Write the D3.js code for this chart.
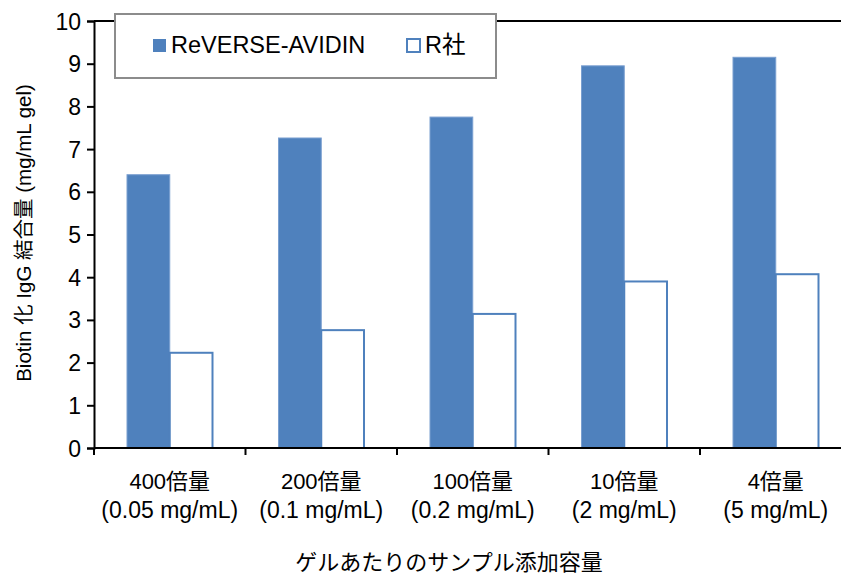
<!DOCTYPE html>
<html>
<head>
<meta charset="utf-8">
<script src="https://cdn.jsdelivr.net/npm/d3@7"></script>
<style>
  body { margin: 0; background: #fff; }
  text { font-family: "Liberation Sans", Arial, "Noto Sans CJK JP", sans-serif; fill: #000; }
</style>
</head>
<body>
<div id="chart"></div>
<script>
let width = 841;
let height = 575;

// data
let categories = ['400倍量', '200倍量', '100倍量', '10倍量', '4倍量'];
let subLabels = ['(0.05 mg/mL)', '(0.1 mg/mL)', '(0.2 mg/mL)', '(2 mg/mL)', '(5 mg/mL)'];
let seriesNames = ['ReVERSE-AVIDIN', 'R社'];
let avidin = [6.4, 7.26, 7.75, 8.95, 9.15];
let rsha = [2.23, 2.76, 3.14, 3.9, 4.07];
let yTicks = [0, 1, 2, 3, 4, 5, 6, 7, 8, 9, 10];

let blue = '#4f81bd';

let svg = d3.select('#chart')
    .append('svg')
    .attr('width', width)
    .attr('height', height);

let plotLeft = 94, plotRight = 851.5, plotTop = 21, plotBottom = 448;

let y = d3.scaleLinear().domain([0, 10]).range([plotBottom, plotTop]);
let x0 = d3.scaleBand().domain(categories).range([plotLeft, plotRight]);
let x1 = d3.scaleBand().domain(seriesNames)
    .range([33, x0.bandwidth() - 33]);

let rows = categories.map((c, i) => ({ cat: c, vals: [avidin[i], rsha[i]] }));

// bars
let groups = svg.selectAll('.grp')
    .data(rows)
    .enter().append('g')
    .attr('class', 'grp')
    .attr('transform', d => 'translate(' + x0(d.cat) + ',0)');

groups.selectAll('rect')
    .data(d => d.vals.map((v, j) => ({ key: seriesNames[j], value: v })))
    .enter().append('rect')
    .attr('x', d => x1(d.key))
    .attr('y', d => y(d.value))
    .attr('width', x1.bandwidth())
    .attr('height', d => y(0) - y(d.value))
    .attr('fill', d => d.key == 'R社' ? '#fff' : blue)
    .attr('stroke', d => d.key == 'R社' ? blue : '#7a9fd0')
    .attr('stroke-width', d => d.key == 'R社' ? 2 : 1);

// top border line at 10
svg.append('line')
    .attr('x1', plotLeft).attr('x2', plotRight)
    .attr('y1', y(10)).attr('y2', y(10))
    .attr('stroke', '#000').attr('stroke-width', 2);

// y axis
let yAxis = svg.append('g')
    .attr('transform', 'translate(' + plotLeft + ',0)')
    .call(d3.axisLeft(y).tickValues(yTicks).tickSize(7).tickPadding(6));
yAxis.select('.domain').attr('stroke', '#000').attr('stroke-width', 2);
yAxis.selectAll('.tick line').attr('stroke', '#000').attr('stroke-width', 2);
yAxis.selectAll('.tick text')
    .style('font-size', '23px')
    .style('font-family', '"Liberation Sans", Arial, sans-serif')
    .attr('dy', '0.35em');

// x axis
let xAxis = svg.append('g')
    .attr('transform', 'translate(0,' + plotBottom + ')');
xAxis.append('line')
    .attr('x1', plotLeft).attr('x2', plotRight)
    .attr('stroke', '#000').attr('stroke-width', 2);
xAxis.selectAll('.xt')
    .data(categories.concat(['end']))
    .enter().append('line')
    .attr('class', 'xt')
    .attr('x1', (d, i) => plotLeft + i * x0.step())
    .attr('x2', (d, i) => plotLeft + i * x0.step())
    .attr('y1', 0).attr('y2', 7)
    .attr('stroke', '#000').attr('stroke-width', 2);

xAxis.selectAll('.xl1')
    .data(categories)
    .enter().append('text')
    .attr('class', 'xl1')
    .attr('x', d => x0(d) + x0.bandwidth() / 2)
    .attr('y', 41)
    .attr('text-anchor', 'middle')
    .style('font-size', '22px')
    .text(d => d);

xAxis.selectAll('.xl2')
    .data(subLabels)
    .enter().append('text')
    .attr('class', 'xl2')
    .attr('x', (d, i) => x0(categories[i]) + x0.bandwidth() / 2)
    .attr('y', 70)
    .attr('text-anchor', 'middle')
    .style('font-size', '23px')
    .text(d => d);

// x title
svg.append('text')
    .attr('x', 449)
    .attr('y', 570)
    .attr('text-anchor', 'middle')
    .style('font-size', '22px')
    .text('ゲルあたりのサンプル添加容量');

// y title
svg.append('text')
    .attr('transform', 'translate(31,233) rotate(-90)')
    .attr('text-anchor', 'middle')
    .style('font-size', '20.5px')
    .text('Biotin 化 IgG 結合量 (mg/mL gel)');

// legend
let legend = svg.append('g');
legend.append('rect')
    .attr('x', 115).attr('y', 14)
    .attr('width', 381).attr('height', 64)
    .attr('fill', '#fff')
    .attr('stroke', '#8c8c8c').attr('stroke-width', 2);

let legX = [153, 407];
let items = legend.selectAll('.li')
    .data(seriesNames)
    .enter().append('g')
    .attr('class', 'li')
    .attr('transform', (d, i) => 'translate(' + legX[i] + ',45)');
items.append('rect')
    .attr('x', 0).attr('y', -6)
    .attr('width', 13).attr('height', 13)
    .attr('fill', d => d == 'R社' ? '#fff' : blue)
    .attr('stroke', blue)
    .attr('stroke-width', d => d == 'R社' ? 2 : 0);
items.append('text')
    .attr('x', 18)
    .attr('y', 0)
    .attr('dy', '0.35em')
    .style('font-size', '23.5px')
    .text(d => d);
</script>
</body>
</html>
